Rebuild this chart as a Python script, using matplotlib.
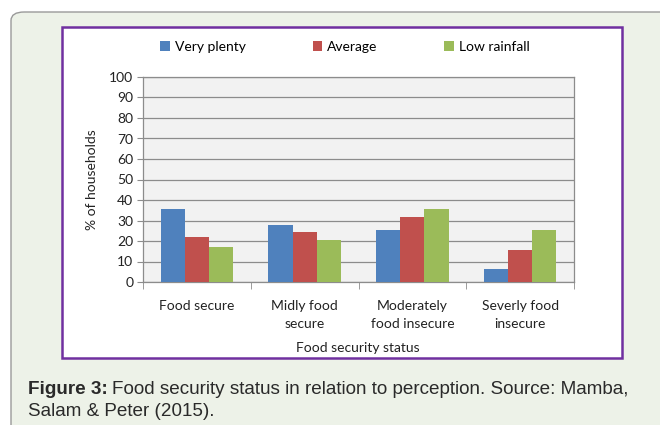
import matplotlib
matplotlib.use("Agg")
import matplotlib.pyplot as plt
from matplotlib.patches import FancyBboxPatch, Rectangle
import numpy as np

categories = ["Food secure", "Midly food\nsecure", "Moderately\nfood insecure", "Severly food\ninsecure"]
series_names = ["Very plenty", "Average", "Low rainfall"]
very_plenty = [35.6, 27.7, 25.4, 6.5]
average = [21.9, 24.2, 31.7, 15.6]
low_rainfall = [17.3, 20.7, 35.6, 25.4]
series_colors = ["#4F81BD", "#C0504D", "#9BBB59"]
y_ticks = list(range(0, 101, 10))

W, H = 660, 425
fig = plt.figure(figsize=(W / 100, H / 100), dpi=100)
fig.patch.set_facecolor("white")

def fx(px):
    return px / W

def fy(py):
    return 1 - py / H

# outer caption panel
panel = FancyBboxPatch((fx(11), fy(440)), fx(700), fy(12) - fy(440),
                       boxstyle="round,pad=0,rounding_size=0.02",
                       transform=fig.transFigure, facecolor="#EDF2E8",
                       edgecolor="#9A9A9A", linewidth=1.0, zorder=0)
fig.patches.append(panel)

# white chart box with purple frame
box = Rectangle((fx(62), fy(358)), fx(622) - fx(62), fy(27) - fy(358),
                transform=fig.transFigure, facecolor="white",
                edgecolor="#7030A0", linewidth=1.8, zorder=1)
fig.patches.append(box)

ax = fig.add_axes([fx(143), fy(282), fx(574) - fx(143), fy(77) - fy(282)])
ax.set_zorder(2)
ax.set_facecolor("#F2F2F2")

font = ["Lato", "DejaVu Sans"]
x = np.arange(len(categories))
bw = 0.225
for i, (vals, name, col) in enumerate(zip([very_plenty, average, low_rainfall], series_names, series_colors)):
    ax.bar(x + (i - 1) * bw, vals, width=bw, color=col, label=name, zorder=3)

ax.set_xlim(-0.5, len(categories) - 0.5)
ax.set_ylim(0, 100)
ax.set_yticks(y_ticks)
ax.set_yticklabels([str(v) for v in y_ticks], fontsize=10, family=font, color="#222222")
ax.yaxis.grid(True, color="#8C8C8C", linewidth=0.9, zorder=1)
ax.set_axisbelow(True)

ax.set_xticks(x)
ax.set_xticklabels(categories, fontsize=10, family=font, color="#222222", linespacing=1.6)
ax.tick_params(axis="x", length=0, pad=13)
ax.set_xticks(np.arange(-0.5, len(categories), 1.0), minor=True)
ax.tick_params(axis="x", which="minor", length=5, color="#8C8C8C", direction="out")
ax.tick_params(axis="y", length=4, color="#8C8C8C", direction="out", pad=3)

for s in ["left", "bottom", "right", "top"]:
    ax.spines[s].set_color("#8C8C8C")
    ax.spines[s].set_linewidth(0.9)

ax.set_ylabel("% of households", fontsize=10, family=font, labelpad=8, color="#222222")
fig.text(fx(358), fy(348), "Food security status", fontsize=10, family=font,
         ha="center", va="center", color="#222222", zorder=3)

handles, labels = ax.get_legend_handles_labels()
leg = fig.legend(handles, labels, loc="center", bbox_to_anchor=(fx(345), fy(47)),
                 ncol=3, frameon=False, prop={"family": font, "size": 10},
                 handlelength=0.7, handleheight=0.7, handletextpad=0.35,
                 columnspacing=4.8)
leg.set_zorder(3)

cap_font = ["Liberation Sans", "DejaVu Sans"]
cap_size = 13.55
t1 = fig.text(fx(28), fy(389), "Figure 3:", fontsize=cap_size, family=cap_font,
              weight="bold", va="center", ha="left", color="#2A2A2A", zorder=3)
fig.canvas.draw()
bb = t1.get_window_extent()
fig.text(bb.x1 / W + fx(4), fy(389), "Food security status in relation to perception. Source: Mamba,",
         fontsize=cap_size, family=cap_font, va="center", ha="left", color="#2A2A2A", zorder=3)
fig.text(fx(28), fy(411), "Salam & Peter (2015).", fontsize=cap_size, family=cap_font,
         va="center", ha="left", color="#2A2A2A", zorder=3)

fig.savefig("out.png", dpi=100, facecolor=fig.get_facecolor())
